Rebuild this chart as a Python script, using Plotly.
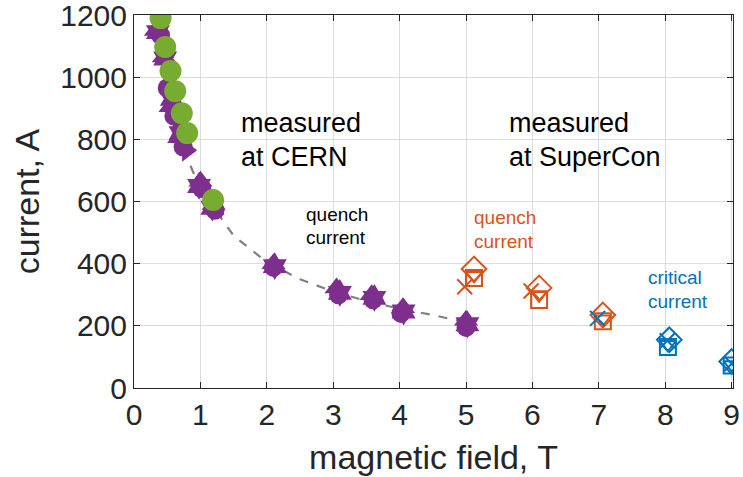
import plotly.graph_objects as go

# ---------------- data ----------------
# CERN quench current (purple, several filled marker types)
cern_tri_up_B = [0.33, 0.45, 0.55, 0.68, 1.00, 1.20, 2.10, 3.05, 3.58, 4.05, 5.00]
cern_tri_up_I = [1150, 1065, 905, 805, 665, 590, 400, 322, 300, 258, 218]
cern_circle_B = [0.40, 0.50, 0.60, 0.74, 1.02, 1.22, 2.10, 3.08, 3.60, 4.02, 5.00]
cern_circle_I = [1135, 965, 875, 775, 642, 572, 388, 300, 284, 240, 195]
cern_hexa_B = [0.36, 0.47, 0.57, 0.70, 0.98, 1.18, 2.12, 3.10, 3.62, 4.06, 5.02]
cern_hexa_I = [1145, 1060, 930, 820, 650, 580, 392, 306, 290, 246, 205]
cern_tri_right_B = [0.80, 0.66]
cern_tri_right_I = [765, 845]
cern_tri_left_B = [0.38]
cern_tri_left_I = [1160]
# CERN (green circles)
green_B = [0.40, 0.47, 0.55, 0.62, 0.72, 0.80, 1.19]
green_I = [1190, 1097, 1020, 955, 884, 820, 605]
# dashed guide line
fit_B = [0.85, 1.0, 1.5, 2.0, 2.5, 3.0, 3.5, 4.0, 4.5, 4.95]
fit_I = [715, 640, 490, 405, 350, 310, 280, 255, 235, 213]
# SuperCon quench current (orange, open markers)
sc_q_diamond_B = [5.12, 6.10, 7.06]
sc_q_diamond_I = [383, 322, 235]
sc_q_square_B = [5.12, 6.10, 7.06]
sc_q_square_I = [354, 283, 215]
sc_q_tridown_B = [5.12, 6.10, 7.06]
sc_q_tridown_I = [362, 300, 222]
sc_q_x_B = [4.98, 5.98]
sc_q_x_I = [326, 312]
# SuperCon critical current (blue, open markers)
sc_c_x_B = [6.98, 8.03, 9.00]
sc_c_x_I = [224, 152, 78]
sc_c_square_B = [8.04, 9.00]
sc_c_square_I = [132, 72]
sc_c_diamond_B = [8.06, 9.00]
sc_c_diamond_I = [155, 85]
sc_c_tridown_B = [8.04, 9.00]
sc_c_tridown_I = [140, 75]

x_ticks = [0, 1, 2, 3, 4, 5, 6, 7, 8, 9]
y_ticks = [0, 200, 400, 600, 800, 1000, 1200]

PURPLE = "#7E2F8E"
GREEN = "#77AC30"
ORANGE = "#D95319"
BLUE = "#0072BD"
FONT = "Liberation Sans"

fig = go.Figure()

fig.add_trace(go.Scatter(x=fit_B, y=fit_I, mode="lines",
                         line=dict(color="#808080", width=2.2, dash="dash"),
                         showlegend=False, hoverinfo="skip"))

def filled(xs, ys, sym, color, size):
    fig.add_trace(go.Scatter(x=xs, y=ys, mode="markers", showlegend=False,
                             marker=dict(symbol=sym, color=color, size=size,
                                         line=dict(width=0))))

def opened(xs, ys, sym, color, size):
    fig.add_trace(go.Scatter(x=xs, y=ys, mode="markers", showlegend=False,
                             marker=dict(symbol=sym, color=color, size=size,
                                         line=dict(width=2, color=color))))

filled(cern_tri_up_B, cern_tri_up_I, "triangle-up", PURPLE, 21)
filled(cern_circle_B, cern_circle_I, "circle", PURPLE, 19)
filled(cern_hexa_B, cern_hexa_I, "hexagram", PURPLE, 21)
filled(cern_tri_right_B, cern_tri_right_I, "triangle-right", PURPLE, 20)
filled(cern_tri_left_B, cern_tri_left_I, "triangle-left", PURPLE, 20)
filled(green_B, green_I, "circle", GREEN, 22)

opened(sc_q_diamond_B, sc_q_diamond_I, "diamond-open", ORANGE, 19)
opened(sc_q_square_B, sc_q_square_I, "square-open", ORANGE, 16)
opened(sc_q_tridown_B, sc_q_tridown_I, "triangle-down-open", ORANGE, 14)
opened(sc_q_x_B, sc_q_x_I, "x-thin-open", ORANGE, 15)

opened(sc_c_x_B, sc_c_x_I, "x-thin-open", BLUE, 15)
opened(sc_c_square_B, sc_c_square_I, "square-open", BLUE, 16)
opened(sc_c_diamond_B, sc_c_diamond_I, "diamond-open", BLUE, 19)
opened(sc_c_tridown_B, sc_c_tridown_I, "triangle-down-open", BLUE, 14)

def label(x, y, text, color, size):
    fig.add_annotation(x=x, y=y, xref="x", yref="y", text=text, showarrow=False,
                       xanchor="left", yanchor="middle", align="left",
                       xshift=-1,
                       font=dict(family=FONT, size=size, color=color))

label(1.595, 853, "measured", "#000000", 27)
label(1.595, 743, "at CERN", "#000000", 27)
label(5.63, 853, "measured", "#000000", 27)
label(5.63, 743, "at SuperCon", "#000000", 27)
label(2.574, 557, "quench", "#000000", 19)
label(2.574, 483, "current", "#000000", 19)
label(5.10, 547, "quench", ORANGE, 19)
label(5.10, 470, "current", ORANGE, 19)
label(7.72, 354, "critical", BLUE, 19)
label(7.72, 277, "current", BLUE, 19)

axis_common = dict(showgrid=True, gridcolor="#DCDCDC", gridwidth=1,
                   showline=True, linecolor="#262626", linewidth=1,
                   mirror="ticks", ticks="inside", ticklen=6, tickcolor="#262626",
                   zeroline=False, ticklabeloverflow="allow", automargin=False,
                   tickfont=dict(family=FONT, size=30, color="#262626"))

fig.update_xaxes(range=[0, 9.02], tickvals=x_ticks, ticktext=[str(v) for v in x_ticks],
                 title=dict(text="magnetic field, T", standoff=15,
                            font=dict(family=FONT, size=34, color="#262626")),
                 **axis_common)
fig.update_yaxes(range=[0, 1200], tickvals=y_ticks, ticktext=[str(v) for v in y_ticks],
                 title=dict(text="current, A", standoff=10,
                            font=dict(family=FONT, size=34, color="#262626")),
                 **axis_common)

fig.update_layout(width=743, height=477, plot_bgcolor="white", paper_bgcolor="white",
                  margin=dict(l=134, r=10, t=15, b=89), showlegend=False)

fig.write_html("out.html")
